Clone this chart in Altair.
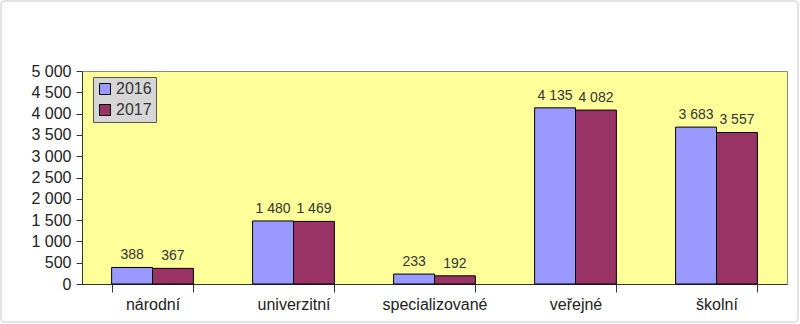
import altair as alt
import pandas as pd

categories = ["národní", "univerzitní", "specializované", "veřejné", "školní"]
v2016 = [388, 1480, 233, 4135, 3683]
v2017 = [367, 1469, 192, 4082, 3557]
years = ["2016", "2017"]

rows = []
for c, a, b in zip(categories, v2016, v2017):
    rows.append({"kat": c, "rok": years[0], "val": a})
    rows.append({"kat": c, "rok": years[1], "val": b})
df = pd.DataFrame(rows)

fmt = "replace(format(datum.value, ','), ',', ' ')"

xaxis = alt.Axis(labelAngle=0, tickBand="extent", tickSize=8,
                 labelPadding=4, labelFontSize=16, labelColor="#222",
                 domainColor="#333", tickColor="#333", labelFont="Liberation Sans")
yaxis = alt.Axis(values=list(range(0, 5001, 500)), tickSize=6, labelPadding=5,
                 labelOverlap=False, labelBound=False, labelFlush=False,
                 labelExpr=fmt, grid=False, labelFontSize=16, labelColor="#222",
                 domainColor="#333", tickColor="#333", labelFont="Liberation Sans")
xscale = alt.Scale(paddingInner=0.42, paddingOuter=0.21)
yscale = alt.Scale(domain=[0, 5000], nice=False)

base = alt.Chart(df)
bars = base.mark_bar(stroke="#000", strokeWidth=1).encode(
    x=alt.X("kat:N", sort=categories, title=None, scale=xscale, axis=xaxis),
    y=alt.Y("val:Q", title=None, scale=yscale, axis=yaxis),
    xOffset=alt.XOffset("rok:N", sort=years),
    color=alt.Color("rok:N", sort=years,
                    scale=alt.Scale(domain=years, range=["#9999FF", "#993366"]),
                    legend=alt.Legend(title=None, orient="none", legendX=11, legendY=6,
                                      fillColor="#d6d6d6", strokeColor="#555", padding=4,
                                      symbolType="square", symbolSize=121, symbolStrokeColor="#000",
                                      symbolStrokeWidth=1, labelFontSize=16, labelColor="#333",
                                      labelOffset=3, labelFont="Liberation Sans", rowPadding=5)),
)
labels = base.mark_text(dy=-12, fontSize=14, color="#333", font="Liberation Sans").transform_calculate(
    lab="replace(format(datum.val, ','), ',', ' ')"
).encode(
    x=alt.X("kat:N", sort=categories, title=None, scale=xscale, axis=xaxis),
    xOffset=alt.XOffset("rok:N", sort=years),
    y=alt.Y("val:Q", title=None, scale=yscale, axis=yaxis),
    text="lab:N",
)

border = alt.Chart(pd.DataFrame({"a": [0]})).mark_rect(
    fill=None, stroke="#c8c8c8", strokeWidth=1, cornerRadius=3
).encode(x=alt.value(-81), x2=alt.value(716), y=alt.value(-70), y2=alt.value(251))

chart = alt.layer(border, bars, labels).properties(
    width=705, height=213,
    autosize=alt.AutoSizeParams(type="none"),
    padding={"left": 82, "top": 71, "right": 13, "bottom": 40},
    background="white",
).configure_view(fill="#FFFF99", stroke="#888", strokeWidth=1)

chart.save("out.html", embed_options={"renderer": "svg", "actions": False})
